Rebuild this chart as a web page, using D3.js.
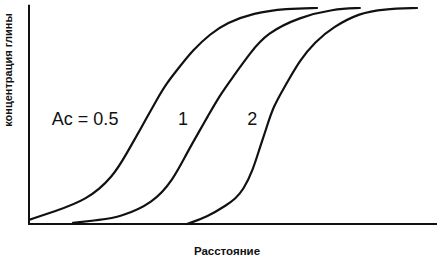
<!DOCTYPE html>
<html>
<head>
<meta charset="utf-8">
<script src="https://cdn.jsdelivr.net/npm/d3@7"></script>
<style>
  body { margin: 0; background: #fff; }
  svg { display: block; font-family: "Liberation Sans", Arial, sans-serif; }
</style>
</head>
<body>
<svg id="chart" width="438" height="260"></svg>
<script>
// distance (0..100) and clay concentration (0..1)
const xs05 = [0, 5.9, 14.2, 20.6, 24.0, 27.2, 31.4, 33.8, 36.3, 40.2, 44.4, 48.5, 54.9, 63.2, 70.6];
const ys05 = [0.019, 0.056, 0.111, 0.218, 0.329, 0.435, 0.579, 0.653, 0.713, 0.806, 0.880, 0.931, 0.977, 0.998, 1.0];

const xs1 = [10.8, 17.4, 22.3, 30.4, 35.3, 38.7, 41.9, 43.6, 46.8, 50.0, 54.2, 58.3, 66.4, 74.5, 81.1];
const ys1 = [0.005, 0.019, 0.032, 0.097, 0.204, 0.329, 0.435, 0.491, 0.597, 0.681, 0.792, 0.884, 0.958, 0.995, 1.0];

const xs2 = [38.7, 43.6, 48.5, 50.5, 52.5, 54.9, 56.6, 58.3, 59.8, 63.2, 66.4, 70.1, 74.5, 81.1, 86.8, 95.1];
const ys2 = [0.0, 0.032, 0.088, 0.116, 0.157, 0.250, 0.356, 0.449, 0.542, 0.653, 0.759, 0.843, 0.912, 0.977, 0.995, 1.0];

const curveNames = ["Ac = 0.5", "1", "2"];
const labelPos = [[5.6, 0.46], [36.5, 0.46], [53.5, 0.46]]; // label anchor (start) in data units
const xTitle = "Расстояние";
const yTitle = "концентрация глины";

const svg = d3.select("#chart");

const x = d3.scaleLinear().domain([0, 100]).range([29, 437]);
const y = d3.scaleLinear().domain([0, 1]).range([224, 8]);

// axes (plain lines, no ticks)
svg.append("line").attr("x1", x(0)).attr("y1", y(0)).attr("x2", x(100)).attr("y2", y(0))
  .attr("stroke", "#111").attr("stroke-width", 2);
svg.append("line").attr("x1", x(0)).attr("y1", y(0) + 1).attr("x2", x(0)).attr("y2", y(1.015))
  .attr("stroke", "#111").attr("stroke-width", 2);

const series = [[xs05, ys05], [xs1, ys1], [xs2, ys2]];

const line = d3.line()
  .x(d => x(d[0]))
  .y(d => y(d[1]))
  .curve(d3.curveBasis);

series.forEach(s => {
  const pts = s[0].map((v, i) => [v, s[1][i]]);
  svg.append("path").attr("d", line(pts))
    .attr("fill", "none").attr("stroke", "#111").attr("stroke-width", 2.2)
    .attr("stroke-linecap", "round");
});

curveNames.forEach((n, i) => {
  svg.append("text").attr("x", x(labelPos[i][0])).attr("y", y(labelPos[i][1]))
    .attr("font-size", 18).attr("fill", "#111").text(n);
});

svg.append("text").attr("x", 227).attr("y", 255)
  .attr("text-anchor", "middle").attr("font-size", 11.5).attr("font-weight", "bold")
  .attr("fill", "#111").text(xTitle);

svg.append("text").attr("transform", "translate(12,70) rotate(-90)")
  .attr("text-anchor", "middle").attr("font-size", 11).attr("font-weight", "bold")
  .attr("fill", "#111").text(yTitle);
</script>
</body>
</html>
